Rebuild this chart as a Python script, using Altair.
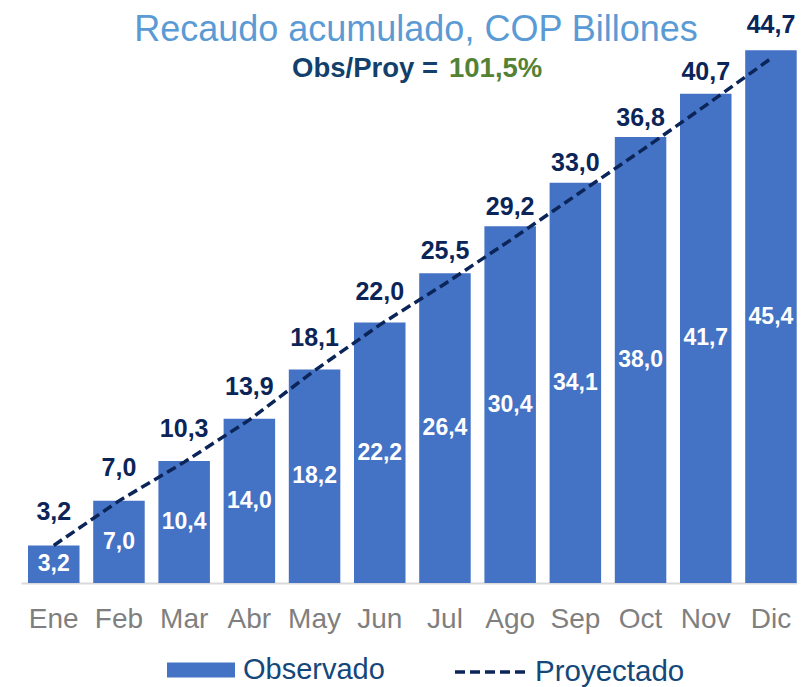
import altair as alt
import pandas as pd

meses = ["Ene", "Feb", "Mar", "Abr", "May", "Jun", "Jul", "Ago", "Sep", "Oct", "Nov", "Dic"]
observado = [3.2, 7.0, 10.4, 14.0, 18.2, 22.2, 26.4, 30.4, 34.1, 38.0, 41.7, 45.4]
proyectado = [3.2, 7.0, 10.3, 13.9, 18.1, 22.0, 25.5, 29.2, 33.0, 36.8, 40.7, 44.7]

titulo = "Recaudo acumulado, COP Billones"
sub_izq = "Obs/Proy ="
sub_der = "101,5%"

FONT = "Liberation Sans"
BAR = "#4472C4"
NAVY = "#0B2559"
LEG = "#14477A"

def fmt(v):
    return f"{v:.1f}".replace(".", ",")

df = pd.DataFrame({
    "mes": meses,
    "obs": observado,
    "proy": proyectado,
    "obs_lbl": [fmt(v) for v in observado],
    "proy_lbl": [fmt(v) for v in proyectado],
    "s_obs": ["Observado"] * len(meses),
    "s_proy": ["Proyectado"] * len(meses),
})

x = alt.X(
    "mes:N",
    sort=meses,
    scale=alt.Scale(paddingInner=0.21, paddingOuter=0.056, align=0.96),
    axis=alt.Axis(
        title=None, labelAngle=0, ticks=False, tickSize=0, labelPadding=22,
        labelFont=FONT, labelFontSize=28, labelColor="#7F7F7F",
        domainColor="#D9D9D9", domainWidth=2,
    ),
)
yscale = alt.Scale(domain=[0, 49])

base = alt.Chart(df)

bars = base.mark_bar().encode(
    x=x,
    y=alt.Y("obs:Q", scale=yscale, axis=None),
    color=alt.Color(
        "s_obs:N",
        scale=alt.Scale(domain=["Observado"], range=[BAR]),
        legend=alt.Legend(
            title=None, orient="none", legendX=146, legendY=628, padding=0,
            symbolType="M-1,-0.22H1V0.22H-1Z", symbolSize=4624, symbolStrokeWidth=0,
            labelFont=FONT, labelFontSize=29, labelColor=LEG, labelOffset=8,
            labelLimit=400,
        ),
    ),
)

line = base.mark_line(color=NAVY, strokeWidth=3.5).encode(
    x=x,
    y=alt.Y("proy:Q", scale=yscale),
    strokeDash=alt.StrokeDash(
        "s_proy:N",
        scale=alt.Scale(domain=["Proyectado"], range=[[10, 5]]),
        legend=alt.Legend(
            title=None, orient="none", legendX=432, legendY=627, padding=0,
            symbolType="stroke", symbolSize=4900, symbolStrokeWidth=3.5,
            symbolStrokeColor=NAVY,
            labelFont=FONT, labelFontSize=29.5, labelColor=LEG, labelOffset=8,
            labelLimit=400,
        ),
    ),
)

in_lbl = base.transform_calculate(mid="datum.obs / 2").mark_text(
    font=FONT, fontSize=23, fontWeight="bold", color="white", baseline="middle"
).encode(x=x, y=alt.Y("mid:Q", scale=yscale), text="obs_lbl:N")

top_lbl = base.mark_text(
    font=FONT, fontSize=25, fontWeight="bold", color=NAVY, baseline="alphabetic", dy=-25
).encode(x=x, y=alt.Y("proy:Q", scale=yscale), text="proy_lbl:N")

one = pd.DataFrame({"t": [titulo], "a": [sub_izq], "b": [sub_der]})
t_title = alt.Chart(one).mark_text(
    font=FONT, fontSize=36, color="#5B9BD5", align="center", baseline="alphabetic"
).encode(x=alt.value(395), y=alt.value(33), text="t:N")
t_sub1 = alt.Chart(one).mark_text(
    font=FONT, fontSize=27.5, fontWeight="bold", color="#123F6B", align="right", baseline="alphabetic"
).encode(x=alt.value(417), y=alt.value(69), text="a:N")
t_sub2 = alt.Chart(one).mark_text(
    font=FONT, fontSize=27.5, fontWeight="bold", color="#548235", align="left", baseline="alphabetic"
).encode(x=alt.value(428), y=alt.value(69), text="b:N")

chart = alt.layer(bars, line, in_lbl, top_lbl, t_title, t_sub1, t_sub2).resolve_scale(
    color="independent", strokeDash="independent"
).properties(
    width=776, height=575,
    autosize=alt.AutoSizeParams(type="none"),
    padding={"left": 13, "top": 0, "right": 0, "bottom": 104},
    background="white",
).configure_view(strokeWidth=0)

chart.save("out.html", embed_options={"renderer": "svg", "actions": False})
